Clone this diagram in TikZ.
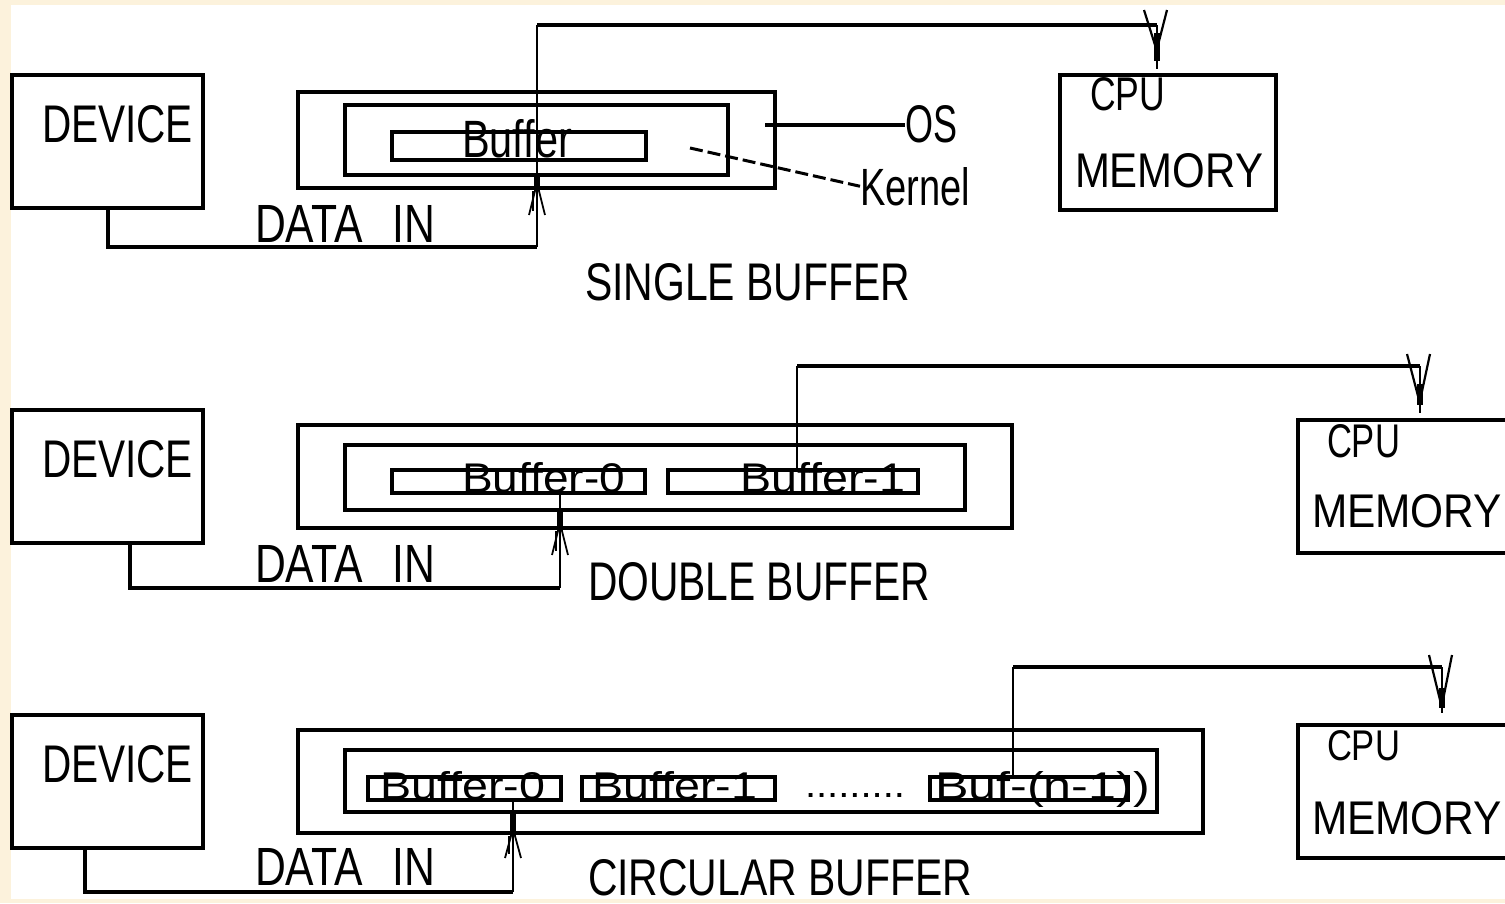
\documentclass[tikz,border=0pt]{standalone}
\usepackage{fontspec}
\setmainfont{Liberation Sans}
\usetikzlibrary{calc}
\definecolor{cream}{HTML}{FCF2DC}
\tikzset{
  boxn/.style={draw=black,line width=3.5pt,inner sep=0pt,outer sep=0pt},
  conn/.style={draw=black,line width=3.2pt},
  thinconn/.style={draw=black,line width=2.2pt},
  headthick/.style={draw=black,line width=5.5pt},
  headthin/.style={draw=black,line width=1.8pt},
  kern/.style={draw=black,line width=3pt,dash pattern=on 13pt off 5pt},
}
% name, x1, y1, x2, y2
\newcommand\mybox[5]{\node[boxn,minimum width={(#4-#2)*1pt},minimum height={(#5-#3)*1pt}] (#1) at ({(#2+#4)/2},{(#3+#5)/2}) {};}
% name, x-left, baseline, width, height, text
\newcommand\mytext[6]{\node[anchor=base west,inner sep=0pt,outer sep=0pt] (#1) at (#2,#3) {\resizebox{#4pt}{#5pt}{#6}};}
% up arrow head: x, inner-bottom, outer-bottom, fan end
\newcommand\uphead[4]{%
  \draw[headthick] (#1,#2) -- (#1,#3+3);
  \draw[headthin] (#1-2,#3+3) -- (#1-8,#4);
  \draw[headthin] (#1+2,#3+3) -- (#1+8,#4);
  \draw[headthin] (#1-4,#3+3) -- (#1-4,#4-4);}
% down V head: x, top, converge, thick end
\newcommand\downhead[4]{%
  \draw[headthin,line width=2.2pt] (#1-13,#2) -- (#1-2,#3);
  \draw[headthin,line width=2.2pt] (#1+10,#2) -- (#1+1,#3);
  \draw[headthick] (#1,#3-12) -- (#1,#4);}
\begin{document}
\begin{tikzpicture}[x=1pt,y=-1pt]
\useasboundingbox (0,0) rectangle (1505,903);
\fill[cream] (0,0) rectangle (1505,903);
\fill[white] (11,5) rectangle (1505,899);

% ================= SINGLE BUFFER =================
\mybox{dev1}{12}{75}{203}{208}
\mytext{dev1t}{42}{142}{151}{37}{DEVICE}
\mybox{os1}{298}{92}{775}{188}
\mybox{ker1}{345}{105}{728}{175}
\mybox{buf1}{392}{132}{646}{160}
\mytext{buf1t}{462}{157}{110}{38}{Buffer}
\mybox{cpu1}{1060}{75}{1276}{210}
\mytext{cpu1t}{1090}{110}{75}{33}{CPU}
\mytext{mem1t}{1075}{187}{188}{34}{MEMORY}
\mytext{din1}{255}{242}{180}{37}{DATA\hspace{0.7em}IN}
\mytext{ostxt}{905}{142}{52}{37}{OS}
\mytext{kertxt}{860}{205}{110}{38}{Kernel}
\mytext{cap1}{585}{300}{325}{37}{SINGLE BUFFER}
\coordinate (d1) at (108,247);
\coordinate (u1) at (537,247);
\coordinate (t1) at (537,25);
\coordinate (v1) at (1157,25);
\draw[conn] (dev1.south -| d1) -- (d1) -- (u1);
\draw[thinconn] (u1) -- (t1);
\draw[conn] (t1) -- (v1);
\draw[thinconn] (v1) -- ([yshift=6pt]cpu1.north -| v1);
\uphead{537}{175}{188}{215}
\downhead{1157}{10}{45}{61}
\draw[conn] (os1.east) ++(-10,-15) coordinate (osa) -- (ostxt.west |- osa);
\draw[kern] (690,148) -- (kertxt.west);

% ================= DOUBLE BUFFER =================
\mybox{dev2}{12}{410}{203}{543}
\mytext{dev2t}{42}{477}{151}{37}{DEVICE}
\mybox{os2}{298}{425}{1012}{528}
\mybox{ker2}{345}{445}{965}{510}
\mybox{buf2a}{392}{470}{645}{493}
\mybox{buf2b}{668}{470}{918}{493}
\mytext{buf2at}{462}{492}{163}{30}{Buffer-0}
\mytext{buf2bt}{740}{492}{165}{30}{Buffer-1}
\mybox{cpu2}{1298}{420}{1525}{553}
\mytext{cpu2t}{1327}{457}{73}{33}{CPU}
\mytext{mem2t}{1312}{527}{190}{33}{MEMORY}
\mytext{din2}{255}{582}{180}{37}{DATA\hspace{0.7em}IN}
\mytext{cap2}{588}{600}{342}{38}{DOUBLE BUFFER}
\coordinate (d2) at (130,588);
\coordinate (u2) at (560,588);
\coordinate (o2) at (797,470);
\coordinate (t2) at (797,366);
\coordinate (v2) at (1420,366);
\draw[conn] (dev2.south -| d2) -- (d2) -- (u2);
\draw[thinconn] (u2) -- (u2 |- buf2a.south);
\draw[thinconn] (buf2b.north -| o2) -- (t2);
\draw[conn] (t2) -- (v2);
\draw[thinconn] (v2) -- ([yshift=7pt]cpu2.north -| v2);
\uphead{560}{510}{528}{555}
\downhead{1420}{354}{396}{405}

% ================= CIRCULAR BUFFER =================
\mybox{dev3}{12}{715}{203}{848}
\mytext{dev3t}{42}{782}{151}{37}{DEVICE}
\mybox{os3}{298}{730}{1203}{833}
\mybox{ker3}{345}{750}{1157}{812}
\mybox{buf3a}{368}{777}{561}{800}
\mybox{buf3b}{582}{777}{775}{800}
\mybox{buf3n}{930}{777}{1128}{800}
\mytext{buf3at}{380}{799}{165}{28}{Buffer-0}
\mytext{buf3bt}{592}{799}{165}{28}{Buffer-1}
\mytext{dots3}{805}{797}{100}{4}{.........}
\mytext{buf3nt}{935}{799}{215}{28}{Buf-(n-1))}
\mybox{cpu3}{1298}{725}{1525}{858}
\mytext{cpu3t}{1327}{760}{73}{30}{CPU}
\mytext{mem3t}{1312}{834}{190}{33}{MEMORY}
\mytext{din3}{255}{885}{180}{37}{DATA\hspace{0.7em}IN}
\mytext{cap3}{588}{895}{384}{36}{CIRCULAR BUFFER}
\coordinate (d3) at (85,892);
\coordinate (u3) at (513,892);
\coordinate (o3) at (1013,777);
\coordinate (t3) at (1013,667);
\coordinate (v3) at (1442,667);
\draw[conn] (dev3.south -| d3) -- (d3) -- (u3);
\draw[thinconn] (u3) -- (u3 |- buf3a.south);
\draw[thinconn] (buf3n.north -| o3) -- (t3);
\draw[conn] (t3) -- (v3);
\draw[thinconn] (v3) -- ([yshift=12pt]cpu3.north -| v3);
\uphead{513}{812}{833}{858}
\downhead{1442}{655}{700}{708}
\end{tikzpicture}
\end{document}
